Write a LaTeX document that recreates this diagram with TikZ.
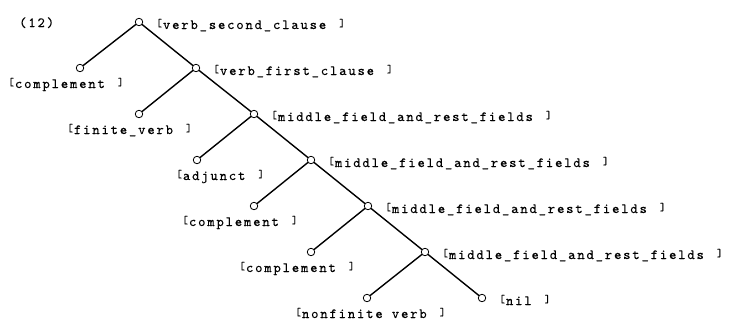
\documentclass[tikz,border=0pt]{standalone}
\usepackage{fontspec}
\newfontfamily\tw{lmmono10-regular.otf}[LetterSpace=13,FakeBold=0.3]
\newcommand{\brk}[1]{{\fontsize{11}{11}\selectfont\raisebox{2.5pt}{[}}\hspace{1pt}#1\hspace{13pt}{\fontsize{11}{11}\selectfont\raisebox{2.5pt}{]}}}
\begin{document}
\begin{tikzpicture}[x=1pt,y=-1pt,
    vertex/.style={circle,draw,fill=white,inner sep=0pt,minimum size=7.5pt,line width=0.8pt},
    lab/.style={anchor=base west,inner sep=0pt,font=\tw\fontsize{14}{16}\selectfont}]
      \useasboundingbox (0,0) rectangle (734,327);
      \node[lab] (num) at (19,27) {(12)};
      \draw
        (139,22) node[vertex] (0){}
        (196,68) node[vertex] (1){}
        (254,114) node[vertex] (2){}
        (311,160) node[vertex] (3){}
        (368,206) node[vertex] (4){}
        (425,252) node[vertex] (5){}
        (482,298) node[vertex] (6){}
        (80,68) node[vertex] (7){}
        (139,114) node[vertex] (8){}
        (197,160) node[vertex] (9){}
        (254,206) node[vertex] (10){}
        (311,252) node[vertex] (11){}
        (367,298) node[vertex] (12){};
      \begin{scope}[-,line width=1.4pt,shorten <=-0.3pt,shorten >=-0.3pt]
        \draw (0) to (7);
        \draw (0) to (1);
        \draw (1) to (8);
        \draw (1) to (2);
        \draw (2) to (9);
        \draw (2) to (3);
        \draw (3) to (10);
        \draw (3) to (4);
        \draw (4) to (11);
        \draw (4) to (5);
        \draw (5) to (12);
        \draw (5) to (6);
      \end{scope}
      \draw
        (156,29) node[lab] (l0){\brk{verb\_second\_clause}}
        (213,75) node[lab] (l1){\brk{verb\_first\_clause}}
        (271,121) node[lab] (l2){\brk{middle\_field\_and\_rest\_fields}}
        (328,167) node[lab] (l3){\brk{middle\_field\_and\_rest\_fields}}
        (385,213) node[lab] (l4){\brk{middle\_field\_and\_rest\_fields}}
        (442,259) node[lab] (l5){\brk{middle\_field\_and\_rest\_fields}}
        (499,305) node[lab] (l6){\brk{nil}}
        (8,88) node[lab] (l7){\brk{complement}}
        (67,134) node[lab] (l8){\brk{finite\_verb}}
        (176,180) node[lab] (l9){\brk{adjunct}}
        (182,226) node[lab] (l10){\brk{complement}}
        (239,272) node[lab] (l11){\brk{complement}}
        (295,318) node[lab] (l12){\brk{nonfinite verb}};
    \end{tikzpicture}
\end{document}
